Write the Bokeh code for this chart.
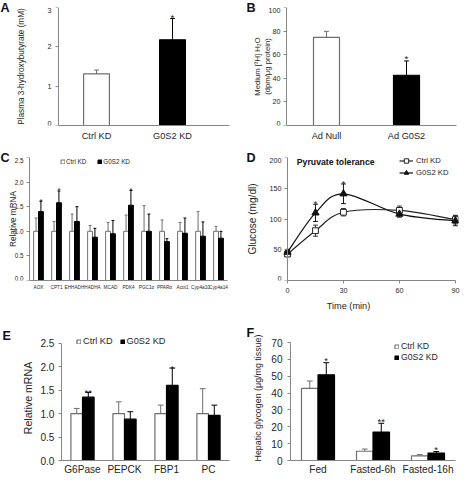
import math
from bokeh.plotting import figure
from bokeh.layouts import column, row
from bokeh.models import (Range1d, FixedTicker, NumeralTickFormatter, Label, Legend, Title,
                          LegendItem, Whisker, TeeHead, ColumnDataSource)
from bokeh.core.properties import value
from bokeh.embed import file_html
from bokeh.resources import INLINE

# ---------------- data ----------------
a_groups = ["Ctrl KD", "G0S2 KD"]
a_mean = [1.31, 2.18]
a_sem = [0.10, 0.54]
a_sig = ["", "*"]
a_yticks = [0, 1, 2, 3]
a_ylabels = ["0", "1", "2", "3"]

b_groups = ["Ad Null", "Ad G0S2"]
b_mean = [74.7, 42.6]
b_sem = [5.1, 12.1]
b_sig = ["", "*"]
b_yticks = [0, 20, 40, 60, 80, 100]
b_ylabels = ["0", "20", "40", "60", "80", "100"]

c_genes = ["AOX", "CPT1", "EHHADH", "HADHA", "MCAD", "PDK4", "PGC1α", "PPARα",
           "Acot1", "Cyp4a10", "Cyp4a14"]
c_ctrl = [1.00, 1.00, 1.00, 1.00, 1.00, 1.00, 1.00, 1.00, 1.00, 1.00, 1.00]
c_ctrl_sem = [0.27, 0.20, 0.35, 0.12, 0.18, 0.33, 0.52, 0.23, 0.18, 0.40, 0.10]
c_g0s2 = [1.40, 1.58, 1.20, 0.88, 0.95, 1.53, 1.00, 0.79, 0.96, 0.90, 0.86]
c_g0s2_sem = [0.21, 0.24, 0.30, 0.18, 0.27, 0.30, 0.35, 0.06, 0.31, 0.29, 0.14]
c_sig = ["*", "*", "", "", "", "*", "", "", "", "", ""]
c_yticks = [0, 0.5, 1.0, 1.5, 2.0, 2.5]
c_ylabels = ["0.0", "0.5", "1.0", "1.5", "2.0", "2.5"]

d_time = [0, 15, 30, 60, 90]
d_ctrl = [43, 81, 111, 114, 99]
d_ctrl_sem = [3, 9, 6, 7, 7]
d_g0s2 = [46, 110, 141, 108, 97]
d_g0s2_sem = [3, 14, 16, 5, 8]
d_sig = ["", "*", "*", "", ""]
d_yticks = [0, 50, 100, 150, 200]
d_ylabels = ["0", "50", "100", "150", "200"]

e_genes = ["G6Pase", "PEPCK", "FBP1", "PC"]
e_ctrl = [1.00, 1.00, 1.00, 1.00]
e_ctrl_sem = [0.11, 0.25, 0.18, 0.53]
e_g0s2 = [1.35, 0.88, 1.60, 0.96]
e_g0s2_sem = [0.10, 0.16, 0.37, 0.22]
e_sig = ["**", "", "*", ""]

f_groups = ["Fed", "Fasted-6h", "Fasted-16h"]
f_ctrl = [42.9, 5.5, 2.7]
f_ctrl_sem = [4.3, 1.3, 0.8]
f_g0s2 = [50.9, 16.9, 4.4]
f_g0s2_sem = [7.2, 5.2, 0.9]
f_sig = ["*", "**", "*"]

# ---------------- style ----------------
S = 460 / 476.0
FONT = "Liberation Sans"
AX = "#868686"
TXT = "#262626"
GRAYBAR = "#6e6e6e"
FL = 8  # frame left (px) for panels whose y axis sits inside the frame


def fs(px):
    return f"{px * S:.1f}px"


def new_panel(W, H, L, R, T, B, xr, yr):
    p = figure(width=W, height=H, x_range=Range1d(*xr), y_range=Range1d(*yr), title=None,
               output_backend="svg", toolbar_location=None,
               min_border_left=L, min_border_right=R, min_border_top=T, min_border_bottom=B)
    p.outline_line_color = None
    p.grid.visible = False
    for ax in p.axis:
        ax.axis_line_color = AX
        ax.major_tick_line_color = AX
        ax.minor_tick_line_color = None
        ax.major_tick_in = 0
        ax.major_label_text_font = FONT
        ax.major_label_text_color = TXT
        ax.axis_label_text_font = FONT
        ax.axis_label_text_font_style = "normal"
        ax.axis_label_text_color = TXT
    return p


def inner_panel(W, H, R, T, B, ax_d, ax_px, unit, yr):
    """Frame starts at FL; the y axis is fixed at data x = ax_d, which lies ax_px from the
    canvas left edge; unit = pixels per x data unit."""
    x0 = ax_d - (ax_px - FL) / unit
    x1 = ax_d + (W - R - ax_px) / unit
    p = new_panel(W, H, FL, R, T, B, (x0, x1), yr)
    return p, x1


def inner_yaxis(p, ax_d, ticks, labels, tsize, tstand, title, title_size, title_off, xend):
    p.yaxis.fixed_location = ax_d
    p.yaxis.ticker = FixedTicker(ticks=ticks)
    p.yaxis.major_tick_out = 3
    p.yaxis.major_label_text_font_size = "1px"
    p.yaxis.major_label_text_color = None
    p.yaxis.major_label_standoff = 0
    p.yaxis.axis_label_standoff = 0
    p.xaxis.bounds = (ax_d, xend)
    off = -(3 + tstand)
    kw = dict(text_align="right", text_font=value(FONT), text_font_size=fs(tsize),
              text_color=TXT, x_offset=off)
    p.text(x=[ax_d] * (len(ticks) - 2), y=ticks[1:-1], text=labels[1:-1],
           text_baseline="middle", **kw)
    p.text(x=[ax_d], y=[ticks[0]], text=[labels[0]], text_baseline="bottom", **kw)
    p.text(x=[ax_d], y=[ticks[-1]], text=[labels[-1]], text_baseline="top", **kw)
    p.text(x=[ax_d], y=[(ticks[0] + ticks[-1]) / 2.0], text=[title], angle=math.pi / 2,
           text_align="center", text_baseline="middle", text_font=value(FONT),
           text_font_size=fs(title_size), text_color=TXT, x_offset=title_off)


def letter(p, txt, off, standoff):
    p.add_layout(Title(text=txt, align="left", offset=off, standoff=standoff,
                       text_font=FONT, text_font_style="bold", text_font_size=fs(13),
                       text_color="#111"), "above")


def cat_xaxis(p, pos, names, size, standoff):
    p.xaxis.ticker = FixedTicker(ticks=list(pos))
    p.xaxis.major_label_overrides = {x: n for x, n in zip(pos, names)}
    p.xaxis.major_tick_out = 0
    p.xaxis.major_label_text_font_size = fs(size)
    p.xaxis.major_label_standoff = round(standoff * S)


def err(p, xs, mean, sem, color, cap, both=False):
    hi = [m + s for m, s in zip(mean, sem)]
    lo = [m - s for m, s in zip(mean, sem)] if both else list(mean)
    src = ColumnDataSource(dict(base=list(xs), lo=lo, hi=hi))
    w = Whisker(source=src, base="base", lower="lo", upper="hi", dimension="height",
                line_color=color, line_width=1,
                upper_head=TeeHead(size=cap * S, line_color=color, line_width=1),
                lower_head=TeeHead(size=cap * S, line_color=color, line_width=1) if both else None)
    p.add_layout(w)


def stars(p, xs, tops, sig, size, yoff):
    p.text(x=list(xs), y=list(tops), text=list(sig), text_align="center",
           text_baseline="alphabetic", text_font=value(FONT), text_font_size=fs(size),
           text_color="#222", y_offset=yoff * S)


def bar_legend(p, r1, r2, loc, orient, size, glyph, standoff, spacing, lh):
    leg = Legend(items=[LegendItem(label="Ctrl KD", renderers=[r1]),
                        LegendItem(label="G0S2 KD", renderers=[r2])],
                 orientation=orient, location=loc, border_line_color=None,
                 background_fill_alpha=0, padding=0, margin=0, spacing=round(spacing * S),
                 glyph_width=round(glyph * S), glyph_height=round(glyph * S),
                 label_standoff=round(standoff * S), label_height=round(lh * S),
                 label_text_font=FONT, label_text_font_size=fs(size), label_text_color=TXT)
    p.add_layout(leg)


# ---------------- Panel A ----------------
pA, a_xend = inner_panel(230, 150, 1, 7, 25, -0.5, 58, 76, (0, 3))
xa = list(range(len(a_groups)))
pA.vbar(x=xa, top=a_mean, width=0.34, bottom=0,
        fill_color=["white", "black"], line_color=[GRAYBAR, "black"], line_width=1.2)
err(pA, [xa[0]], [a_mean[0]], [a_sem[0]], GRAYBAR, 5)
err(pA, [xa[1]], [a_mean[1]], [a_sem[1]], "black", 5)
stars(pA, xa, [m + s for m, s in zip(a_mean, a_sem)], a_sig, 10, -1)
inner_yaxis(pA, -0.5, a_yticks, a_ylabels, 7.5, 4, "Plasma 3-hydroxybutyrate (mM)", 8.5,
            -36.7, a_xend)
cat_xaxis(pA, xa, a_groups, 9.5, 5)
letter(pA, "A", -FL, -14)

# ---------------- Panel B ----------------
pB, b_xend = inner_panel(230, 150, 4, 7, 25, -0.5, 56, 80, (0, 100))
xb = list(range(len(b_groups)))
pB.vbar(x=xb, top=b_mean, width=0.325, bottom=0,
        fill_color=["white", "black"], line_color=[GRAYBAR, "black"], line_width=1.2)
err(pB, [xb[0]], [b_mean[0]], [b_sem[0]], GRAYBAR, 5)
err(pB, [xb[1]], [b_mean[1]], [b_sem[1]], "black", 5)
stars(pB, xb, [m + s for m, s in zip(b_mean, b_sem)], b_sig, 10, -3)
inner_yaxis(pB, -0.5, b_yticks, b_ylabels, 7.5, 3, "Medium [³H] H₂O\n(dpm/μg protein)", 8,
            -24, b_xend)
cat_xaxis(pB, xb, b_groups, 9.5, 5)
letter(pB, "B", 16 - FL, -14)

# ---------------- Panel C ----------------
pC, c_xend = inner_panel(230, 167, 3, 7, 37, -0.5, 29, 18, (0, 2.5))
xc = list(range(len(c_genes)))
xc1 = [x - 0.135 for x in xc]
xc2 = [x + 0.135 for x in xc]
err(pC, xc1, c_ctrl, c_ctrl_sem, GRAYBAR, 3)
err(pC, xc2, c_g0s2, c_g0s2_sem, "black", 3)
rc1 = pC.vbar(x=xc1, top=c_ctrl, width=0.27, bottom=0, fill_color="white",
              line_color=GRAYBAR, line_width=1)
rc2 = pC.vbar(x=xc2, top=c_g0s2, width=0.27, bottom=0, fill_color="black",
              line_color="black", line_width=1)
stars(pC, xc2, [m + s for m, s in zip(c_g0s2, c_g0s2_sem)], c_sig, 8, 0)
inner_yaxis(pC, -0.5, c_yticks, c_ylabels, 6.5, 3, "Relative mRNA", 8.5, -16.5, c_xend)
cat_xaxis(pC, xc, c_genes, 4.9, 4)
bar_legend(pC, rc1, rc2, (60 - FL, (290 - 171) * S), "horizontal", 6.5, 5, 1, 11, 7)
letter(pC, "C", -FL, -14)

# ---------------- Panel D ----------------
pD, d_xend = inner_panel(230, 167, 2, 7, 35, 0, 57, 1.8656, (0, 200))


def smooth(xs, ys, k=1 / 6.0):
    n = len(xs)
    out = dict(x0=[], y0=[], x1=[], y1=[], cx0=[], cy0=[], cx1=[], cy1=[])
    for i in range(n - 1):
        a = max(i - 1, 0)
        b = min(i + 2, n - 1)
        out["x0"].append(xs[i]); out["y0"].append(ys[i])
        out["x1"].append(xs[i + 1]); out["y1"].append(ys[i + 1])
        out["cx0"].append(xs[i] + (xs[i + 1] - xs[a]) * k)
        out["cy0"].append(ys[i] + (ys[i + 1] - ys[a]) * k)
        out["cx1"].append(xs[i + 1] - (xs[b] - xs[i]) * k)
        out["cy1"].append(ys[i + 1] - (ys[b] - ys[i]) * k)
    return out


err(pD, d_time, d_ctrl, d_ctrl_sem, "#333333", 5, both=True)
err(pD, d_time, d_g0s2, d_g0s2_sem, "#111111", 5, both=True)
lc = pD.bezier(source=ColumnDataSource(smooth(d_time, d_ctrl)), x0="x0", y0="y0", x1="x1",
               y1="y1", cx0="cx0", cy0="cy0", cx1="cx1", cy1="cy1",
               line_color="#222222", line_width=1.2)
lg = pD.bezier(source=ColumnDataSource(smooth(d_time, d_g0s2)), x0="x0", y0="y0", x1="x1",
               y1="y1", cx0="cx0", cy0="cy0", cx1="cx1", cy1="cy1",
               line_color="#111111", line_width=1.2)
mc = pD.scatter(x=d_time, y=d_ctrl, marker="square", size=6 * S, fill_color="white",
                line_color="#222222", line_width=1)
mg = pD.scatter(x=d_time, y=d_g0s2, marker="triangle", size=7.5 * S, fill_color="#111111",
                line_color="#111111", line_width=1)
d_top = [max(c + cs, g + gs) for c, cs, g, gs in zip(d_ctrl, d_ctrl_sem, d_g0s2, d_g0s2_sem)]
stars(pD, d_time, d_top, d_sig, 9, 0)
inner_yaxis(pD, 0, d_yticks, d_ylabels, 7.5, 3, "Glucose (mg/dl)", 10.5, -34.8, 90)
pD.xaxis.ticker = FixedTicker(ticks=[0, 30, 60, 90])
pD.xaxis.major_tick_out = 3
pD.xaxis.major_label_text_font_size = fs(7.5)
pD.xaxis.major_label_standoff = 4
pD.xaxis.axis_label = "Time (min)"
pD.xaxis.axis_label_text_font_size = fs(9.5)
pD.xaxis.axis_label_standoff = round(5 * S)
pD.add_layout(Label(x=5, y=193, text="Pyruvate tolerance", text_font=FONT,
                    text_font_style="bold", text_font_size=fs(9), text_baseline="middle",
                    text_align="left", text_color="#111"))
legD = Legend(items=[LegendItem(label="Ctrl KD", renderers=[lc, mc]),
                     LegendItem(label="G0S2 KD", renderers=[lg, mg])],
              location=(169 - FL, (291.7 - 186) * S), border_line_color=None,
              background_fill_alpha=0, padding=0, margin=0, spacing=1,
              glyph_width=round(15 * S), glyph_height=round(11 * S),
              label_standoff=round(3 * S), label_height=round(11 * S),
              label_text_font=FONT, label_text_font_size=fs(8), label_text_color=TXT)
pD.add_layout(legD)
letter(pD, "D", 16 - FL, -14)

# ---------------- Panel E ----------------
E_ymax = 2.5 + 8 / 48.68
pE = new_panel(230, 160, 61, 1, 18, 17, (0, 4), (0, E_ymax))
xe = [i + 0.5 for i in range(len(e_genes))]
xe1 = [x - 0.138 for x in xe]
xe2 = [x + 0.138 for x in xe]
err(pE, xe1, e_ctrl, e_ctrl_sem, GRAYBAR, 6)
err(pE, xe2, e_g0s2, e_g0s2_sem, "black", 6)
re1 = pE.vbar(x=xe1, top=e_ctrl, width=0.276, bottom=0, fill_color="white",
              line_color=GRAYBAR, line_width=1.2)
re2 = pE.vbar(x=xe2, top=e_g0s2, width=0.276, bottom=0, fill_color="black",
              line_color="black", line_width=1.2)
stars(pE, xe2, [m + s for m, s in zip(e_g0s2, e_g0s2_sem)], e_sig, 10, 0)
pE.yaxis.ticker = FixedTicker(ticks=[0, 0.5, 1.0, 1.5, 2.0, 2.5])
pE.yaxis.bounds = (0, 2.5)
pE.yaxis.formatter = NumeralTickFormatter(format="0.0")
pE.yaxis.major_tick_out = 3
pE.yaxis.major_label_text_font_size = fs(10.5)
pE.yaxis.major_label_standoff = 4
pE.yaxis.axis_label = "Relative mRNA"
pE.yaxis.axis_label_text_font_size = fs(11)
pE.yaxis.axis_label_standoff = 3
cat_xaxis(pE, xe, e_genes, 10.5, 3)
bar_legend(pE, re1, re2, (15, (476.7 - 359) * S), "horizontal", 9.5, 5, 2, 7, 10)
letter(pE, "E", -59, -14)

# ---------------- Panel F ----------------
F_ymax = 70 + 7.7 / 1.81
pF = new_panel(230, 160, 60, 5, 14, 16, (0, 3), (0, F_ymax))
xf = [i + 0.5 for i in range(len(f_groups))]
xf1 = [x - 0.15 for x in xf]
xf2 = [x + 0.15 for x in xf]
err(pF, xf1, f_ctrl, f_ctrl_sem, GRAYBAR, 6)
err(pF, xf2, f_g0s2, f_g0s2_sem, "black", 6)
rf1 = pF.vbar(x=xf1, top=f_ctrl, width=0.3, bottom=0, fill_color="white",
              line_color=GRAYBAR, line_width=1.2)
rf2 = pF.vbar(x=xf2, top=f_g0s2, width=0.3, bottom=0, fill_color="black",
              line_color="black", line_width=1.2)
stars(pF, xf2, [m + s for m, s in zip(f_g0s2, f_g0s2_sem)], f_sig, 10, -2)
pF.yaxis.ticker = FixedTicker(ticks=[0, 10, 20, 30, 40, 50, 60, 70])
pF.yaxis.bounds = (0, 70)
pF.yaxis.major_tick_out = 3
pF.yaxis.major_label_text_font_size = fs(10.5)
pF.yaxis.major_label_standoff = 5
pF.yaxis.axis_label = "Hepatic glycogen (μg/mg tissue)"
pF.yaxis.axis_label_text_font_size = fs(9.2)
pF.yaxis.axis_label_standoff = 5
cat_xaxis(pF, xf, f_groups, 10.5, 3)
bar_legend(pF, rf1, rf2, (104, (477.3 - 376) * S), "vertical", 9, 5, 2, 1, 9.5)
letter(pF, "F", -44, -8)

layout = column(row(pA, pB), row(pC, pD), row(pE, pF))
open("out.html", "w").write(file_html(layout, INLINE))
